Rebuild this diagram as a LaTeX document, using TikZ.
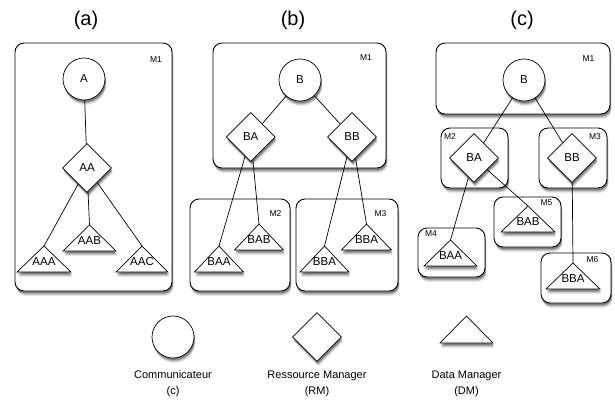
\documentclass[tikz,border=0pt]{standalone}
\usepackage{fontspec}
\setmainfont{Liberation Sans}
\usetikzlibrary{shapes.geometric}
\newcommand\dmtri[5]{% name, x, base y, half width, label
  \draw[tri] (#2-#4,#3) -- (#2,#3-26) -- (#2+#4,#3) -- cycle;
  \coordinate (#1) at (#2,#3-26);
  \node[lbl] (#1l) at (#2,#3-10.5) {#5};
}
\begin{document}
\begin{tikzpicture}[x=1pt,y=-1pt,
  sh/.style={
    preaction={fill=black,opacity=0.08,transform canvas={xshift=1.5pt,yshift=-5pt}},
    preaction={fill=black,opacity=0.12,transform canvas={xshift=1.2pt,yshift=-4pt}},
    preaction={fill=black,opacity=0.18,transform canvas={xshift=1pt,yshift=-3pt}},
    preaction={fill=black,opacity=0.25,transform canvas={xshift=0.8pt,yshift=-2pt}}},
  mbox/.style={draw,line width=0.9pt,rounded corners=9pt,fill=white,sh},
  comm/.style={circle,draw,line width=0.7pt,fill=white,minimum size=42pt,inner sep=0pt,font=\fontsize{11.5}{13}\selectfont,sh},
  rm/.style={diamond,draw,line width=0.7pt,fill=white,minimum width=49pt,minimum height=49pt,inner sep=0pt,font=\fontsize{11.5}{13}\selectfont,sh},
  tri/.style={draw,line width=0.7pt,fill=white,line join=miter,sh},
  lbl/.style={font=\fontsize{11.5}{13}\selectfont,inner sep=0pt},
  mlbl/.style={font=\fontsize{8.5}{10}\selectfont,inner sep=0pt},
  ttl/.style={font=\fontsize{20}{24}\selectfont,inner sep=0pt},
  leg/.style={font=\fontsize{11}{16}\selectfont,inner sep=0pt,align=center},
  conn/.style={line width=0.7pt}
]
\useasboundingbox (0,0) rectangle (615,400);

% titles
\node[ttl] (ta) at (86,20) {(a)};
\node[ttl] (tb) at (293,20) {(b)};
\node[ttl] (tc) at (522,20) {(c)};

% machine boxes
\draw[mbox] (15,43) rectangle (172,291);
\draw[mbox] (213,43) rectangle (386,168);
\draw[mbox] (190,199) rectangle (290,291);
\draw[mbox] (296,199) rectangle (398,291);
\draw[mbox] (436,43) rectangle (610,114);
\draw[mbox] (441,128) rectangle (508,188);
\draw[mbox] (539,128) rectangle (607,188);
\draw[mbox] (494,197) rectangle (561,247);
\draw[mbox] (418,228) rectangle (485,277);
\draw[mbox] (541,253) rectangle (611,303);

% machine labels
\node[mlbl] (ma1) at (156,60) {M1};
\node[mlbl] (mb1) at (366,58) {M1};
\node[mlbl] (mb2) at (275.5,214) {M2};
\node[mlbl] (mb3) at (380.5,214) {M3};
\node[mlbl] (mc1) at (588.5,59) {M1};
\node[mlbl] (mc2) at (450,137) {M2};
\node[mlbl] (mc3) at (595,137) {M3};
\node[mlbl] (mc5) at (546.5,203) {M5};
\node[mlbl] (mc4) at (431,233.5) {M4};
\node[mlbl] (mc6) at (592.5,260) {M6};

% (a)
\node[comm] (A) at (84,79) {A};
\node[rm] (AA) at (87,168) {AA};
\dmtri{AAA}{44}{272}{27}{AAA}
\dmtri{AAB}{89.5}{251}{26.5}{AAB}
\dmtri{AAC}{142}{272}{26}{AAC}

% (b)
\node[comm] (B1) at (300,80) {B};
\node[rm] (BA1) at (250.7,137) {BA};
\node[rm] (BB1) at (352,137) {BB};
\dmtri{BAA1}{219}{272}{24.5}{BAA}
\dmtri{BAB1}{259}{250}{24.5}{BAB}
\dmtri{BBA1}{324.5}{272}{24.5}{BBA}
\dmtri{BBA2}{366.5}{250}{25}{BBA}

% (c)
\node[comm] (B2) at (524,80) {B};
\node[rm] (BA2) at (474,158) {BA};
\node[rm] (BB2) at (572,158) {BB};
\dmtri{BAA2}{450.5}{266}{26.5}{BAA}
\dmtri{BAB2}{528}{232}{27}{BAB}
\dmtri{BBA3}{573}{289}{27}{BBA}

% connectors
\draw[conn] (A) -- (AA);
\draw[conn] (AA) -- (AAA);
\draw[conn] (AA) -- (AAB);
\draw[conn] (AA) -- (AAC);
\draw[conn] (B1) -- (BA1);
\draw[conn] (B1) -- (BB1);
\draw[conn] (BA1) -- (BAA1);
\draw[conn] (BA1) -- (BAB1);
\draw[conn] (BB1) -- (BBA1);
\draw[conn] (BB1) -- (BBA2);
\draw[conn] (B2) -- (BA2);
\draw[conn] (B2) -- (BB2);
\draw[conn] (BA2) -- (BAA2);
\draw[conn] (BA2) -- (BAB2);
\draw[conn] (BB2) -- (BBA3);

% legend
\node[comm] (lc) at (173,337) {};
\node[rm] (lr) at (317,337) {};
\draw[tri] (440,343) -- (466.5,316) -- (493,343) -- cycle;
\node[leg] (lct) at (173,384) {Communicateur\\(c)};
\node[leg] (lrt) at (317,384) {Ressource Manager\\(RM)};
\node[leg] (ltt) at (466.5,384) {Data Manager\\(DM)};
\end{tikzpicture}
\end{document}
